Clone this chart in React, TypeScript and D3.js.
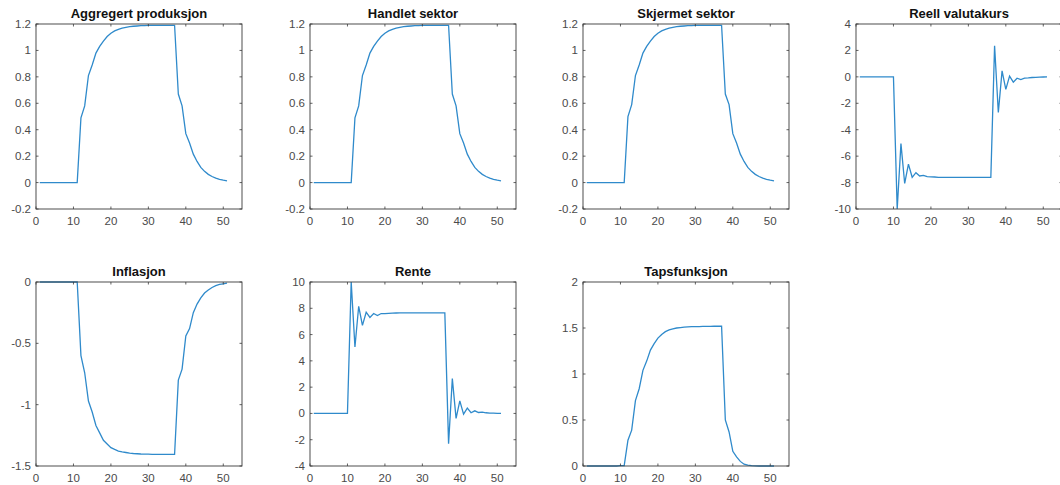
import React from "react";
import * as d3 from "d3";

// Period index 1..51
const periods: number[] = Array.from({ length: 51 }, (_, i) => i + 1);

const aggregertProduksjon: number[] = [
  0, 0, 0, 0, 0, 0, 0, 0, 0, 0, 0,
  0.49, 0.58, 0.81, 0.89, 0.98, 1.03, 1.07, 1.105, 1.13, 1.148, 1.16, 1.168, 1.175, 1.18, 1.183, 1.185, 1.187, 1.188, 1.189, 1.19, 1.19, 1.19, 1.19, 1.19, 1.19, 1.19,
  0.67, 0.58, 0.37, 0.3, 0.215, 0.16, 0.115, 0.085, 0.062, 0.046, 0.034, 0.025, 0.018, 0.013,
];

const handletSektor: number[] = [
  0, 0, 0, 0, 0, 0, 0, 0, 0, 0, 0,
  0.49, 0.58, 0.81, 0.89, 0.98, 1.03, 1.07, 1.105, 1.13, 1.148, 1.16, 1.168, 1.175, 1.18, 1.183, 1.185, 1.187, 1.188, 1.189, 1.19, 1.19, 1.19, 1.19, 1.19, 1.19, 1.19,
  0.67, 0.58, 0.37, 0.3, 0.215, 0.16, 0.115, 0.085, 0.062, 0.046, 0.034, 0.025, 0.018, 0.013,
];

const skjermetSektor: number[] = [
  0, 0, 0, 0, 0, 0, 0, 0, 0, 0, 0,
  0.5, 0.59, 0.81, 0.89, 0.98, 1.03, 1.07, 1.105, 1.13, 1.148, 1.16, 1.168, 1.175, 1.18, 1.183, 1.185, 1.187, 1.188, 1.189, 1.19, 1.19, 1.19, 1.19, 1.19, 1.19, 1.19,
  0.67, 0.59, 0.37, 0.3, 0.215, 0.16, 0.115, 0.085, 0.062, 0.046, 0.034, 0.025, 0.018, 0.013,
];

const reellValutakurs: number[] = [
  0, 0, 0, 0, 0, 0, 0, 0, 0, 0,
  -10, -5.05, -8.07, -6.6, -7.6, -7.25, -7.5, -7.45, -7.55, -7.57, -7.58, -7.6, -7.6, -7.6, -7.6, -7.6, -7.6, -7.6, -7.6, -7.6, -7.6, -7.6, -7.6, -7.6, -7.6, -7.6,
  2.35, -2.7, 0.45, -0.95, 0.05, -0.4, -0.1, -0.2, -0.1, -0.08, -0.05, -0.04, -0.02, -0.01, 0,
];

const inflasjon: number[] = [
  0, 0, 0, 0, 0, 0, 0, 0, 0, 0, 0,
  -0.6, -0.74, -0.97, -1.06, -1.17, -1.23, -1.29, -1.32, -1.35, -1.365, -1.378, -1.385, -1.39, -1.395, -1.398, -1.4, -1.402, -1.403, -1.404, -1.405, -1.405, -1.405, -1.405, -1.405, -1.405, -1.405,
  -0.8, -0.71, -0.44, -0.38, -0.25, -0.18, -0.13, -0.09, -0.065, -0.045, -0.03, -0.02, -0.015, -0.01,
];

const rente: number[] = [
  0, 0, 0, 0, 0, 0, 0, 0, 0, 0,
  10, 5.05, 8.15, 6.7, 7.7, 7.3, 7.6, 7.45, 7.6, 7.6, 7.62, 7.63, 7.64, 7.65, 7.65, 7.65, 7.65, 7.65, 7.65, 7.65, 7.65, 7.65, 7.65, 7.65, 7.65, 7.65,
  -2.3, 2.65, -0.38, 0.95, -0.05, 0.4, 0.05, 0.2, 0.07, 0.1, 0.05, 0.03, 0.02, 0.01, 0,
];

const tapsfunksjon: number[] = [
  0, 0, 0, 0, 0, 0, 0, 0, 0, 0.003, 0.005,
  0.28, 0.39, 0.71, 0.84, 1.04, 1.14, 1.26, 1.33, 1.39, 1.43, 1.46, 1.48, 1.49, 1.5, 1.505, 1.51, 1.512, 1.514, 1.515, 1.516, 1.517, 1.518, 1.518, 1.519, 1.519, 1.52,
  0.5, 0.37, 0.16, 0.1, 0.05, 0.02, 0.01, 0.003, 0.001, 0, 0, 0, 0, 0,
];

const titles: string[] = [
  "Aggregert produksjon",
  "Handlet sektor",
  "Skjermet sektor",
  "Reell valutakurs",
  "Inflasjon",
  "Rente",
  "Tapsfunksjon",
];

const xTicks: number[] = [0, 10, 20, 30, 40, 50];
const xDomain: [number, number] = [0, 55];

const yTicksOutput: number[] = [-0.2, 0, 0.2, 0.4, 0.6, 0.8, 1, 1.2];
const yTicksValuta: number[] = [-10, -8, -6, -4, -2, 0, 2, 4];
const yTicksInflasjon: number[] = [-1.5, -1, -0.5, 0];
const yTicksRente: number[] = [-4, -2, 0, 2, 4, 6, 8, 10];
const yTicksTap: number[] = [0, 0.5, 1, 1.5, 2];

const seriesList: number[][] = [
  aggregertProduksjon,
  handletSektor,
  skjermetSektor,
  reellValutakurs,
  inflasjon,
  rente,
  tapsfunksjon,
];
const yTickList: number[][] = [
  yTicksOutput,
  yTicksOutput,
  yTicksOutput,
  yTicksValuta,
  yTicksInflasjon,
  yTicksRente,
  yTicksTap,
];

// layout
const colLefts = [36, 310, 583, 856];
const rowTops = [24, 282];
const plotW = 206;
const plotH = [185, 184];

const AXIS = "#3a3a3a";
const LABEL = "#4a4a4a";
const LINE = "#2f8acb";
const FONT = "Liberation Sans, Arial, Helvetica, sans-serif";

function Panel({ idx }: { idx: number }) {
  const row = idx < 4 ? 0 : 1;
  const col = idx % 4;
  const left = colLefts[col];
  const top = rowTops[row];
  const h = plotH[row];
  const yt = yTickList[idx];
  const x = d3.scaleLinear().domain(xDomain).range([0, plotW]);
  const y = d3
    .scaleLinear()
    .domain([yt[0], yt[yt.length - 1]])
    .range([h, 0]);
  const data = seriesList[idx];
  const line = d3
    .line<number>()
    .x((_, i) => x(periods[i]))
    .y((d) => y(d));
  const tl = 2.5;
  const clipId = `clip${idx}`;
  const fmt = (v: number) => String(Math.round(v * 100) / 100);
  return (
    <g transform={`translate(${left},${top})`}>
      <defs>
        <clipPath id={clipId}>
          <rect x={-1} y={-1} width={plotW + 2} height={h + 2} />
        </clipPath>
      </defs>
      <rect x={0} y={0} width={plotW} height={h} fill="#fff" />
      <path
        d={line(data) || ""}
        fill="none"
        stroke={LINE}
        strokeWidth={1.3}
        clipPath={`url(#${clipId})`}
      />
      <rect x={0} y={0} width={plotW} height={h} fill="none" stroke={AXIS} strokeWidth={0.9} />
      {xTicks.map((t) => (
        <g key={`x${t}`}>
          <line x1={x(t)} x2={x(t)} y1={h} y2={h - tl} stroke={AXIS} strokeWidth={0.8} />
          <line x1={x(t)} x2={x(t)} y1={0} y2={tl} stroke={AXIS} strokeWidth={0.8} />
          <text
            x={x(t)}
            y={h + 15.5}
            textAnchor="middle"
            fontSize={11.5}
            fill={LABEL}
            fontFamily={FONT}
          >
            {t}
          </text>
        </g>
      ))}
      {yt.map((t) => (
        <g key={`y${t}`}>
          <line x1={0} x2={tl} y1={y(t)} y2={y(t)} stroke={AXIS} strokeWidth={0.8} />
          <line x1={plotW} x2={plotW - tl} y1={y(t)} y2={y(t)} stroke={AXIS} strokeWidth={0.8} />
          <text
            x={-5}
            y={y(t) + 4}
            textAnchor="end"
            fontSize={11.5}
            fill={LABEL}
            fontFamily={FONT}
          >
            {fmt(t)}
          </text>
        </g>
      ))}
      <text
        x={plotW / 2}
        y={-6}
        textAnchor="middle"
        fontSize={13}
        fontWeight="bold"
        fill="#111"
        fontFamily={FONT}
      >
        {titles[idx]}
      </text>
    </g>
  );
}

export default function App() {
  return (
    <svg
      width={1060}
      height={485}
      style={{ position: "absolute", left: 0, top: 0, background: "#fff" }}
    >
      <rect width={1060} height={485} fill="#fff" />
      {titles.map((_, i) => (
        <Panel key={i} idx={i} />
      ))}
    </svg>
  );
}
